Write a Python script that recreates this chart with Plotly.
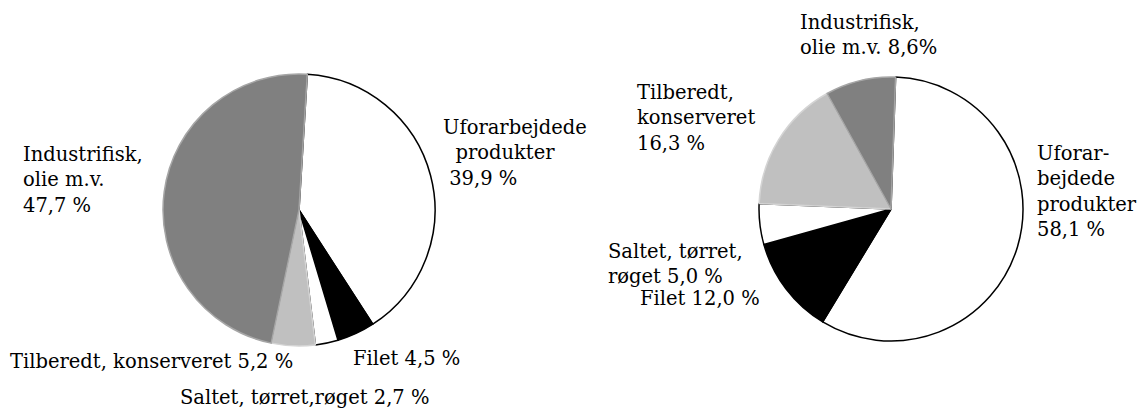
import plotly.graph_objects as go

# Categories in clockwise order, starting at 12 o'clock
categories = ["Uforarbejdede produkter", "Filet", "Saltet, tørret, røget",
              "Tilberedt, konserveret", "Industrifisk, olie m.v."]
values_left = [39.9, 4.5, 2.7, 5.2, 47.7]
values_right = [58.1, 12.0, 5.0, 16.3, 8.6]

# Label texts as they appear in the figure
labels_left = ["Uforarbejdede<br>\u00a0\u00a0produkter<br>\u00a039,9 %",
               "Filet 4,5 %",
               "Saltet, tørret,røget 2,7 %",
               "Tilberedt, konserveret 5,2 %",
               "Industrifisk,<br>olie m.v.<br>47,7 %"]
labels_right = ["Uforar-<br>bejdede<br>produkter<br>58,1 %",
                "Filet 12,0 %",
                "Saltet, tørret,<br>røget 5,0 %",
                "Tilberedt,<br>konserveret<br>16,3 %",
                "Industrifisk,<br>olie m.v. 8,6%"]

fills = ["white", "black", "white", "#c0c0c0", "#808080"]
edges = ["black", "black", "black", "#d4d4d4", "#a6a6a6"]

# page has an 8px body margin, so work in screen pixels and subtract it
OFF = 8
W, H = 1145 - OFF, 410 - OFF
FONT = dict(family="DejaVu Serif", size=19.5, color="black")


def dom(cx, cy, r):
    cx, cy = cx - OFF, cy - OFF
    return dict(x=[(cx - r) / W, (cx + r) / W],
                y=[(H - cy - r) / H, (H - cy + r) / H])


fig = go.Figure()
for vals, d, rot in [(values_left, dom(299, 210, 136), 3.5),
                     (values_right, dom(891, 209, 132), 2)]:
    fig.add_trace(go.Pie(
        labels=categories, values=vals, sort=False, direction="clockwise",
        rotation=rot, textinfo="none", hoverinfo="label+value",
        marker=dict(colors=fills, line=dict(color=edges, width=1.5)),
        domain=d, showlegend=False,
    ))

# label placement (left x, vertical centre) in screen pixels
pos_left = [(441, 153), (351, 358), (178, 397), (8, 361), (21, 180)]
pos_right = [(1035, 191), (638, 298), (606, 264), (635, 118), (798, 35)]

for texts, pos in [(labels_left, pos_left), (labels_right, pos_right)]:
    for t, (x, y) in zip(texts, pos):
        fig.add_annotation(x=(x - OFF) / W, y=1 - (y - OFF) / H,
                           xref="paper", yref="paper",
                           text=t, showarrow=False, xanchor="left",
                           yanchor="middle", align="left", font=FONT)

fig.update_layout(width=W, height=H, margin=dict(l=0, r=0, t=0, b=0),
                  paper_bgcolor="white", plot_bgcolor="white")

fig.write_html("out.html")
